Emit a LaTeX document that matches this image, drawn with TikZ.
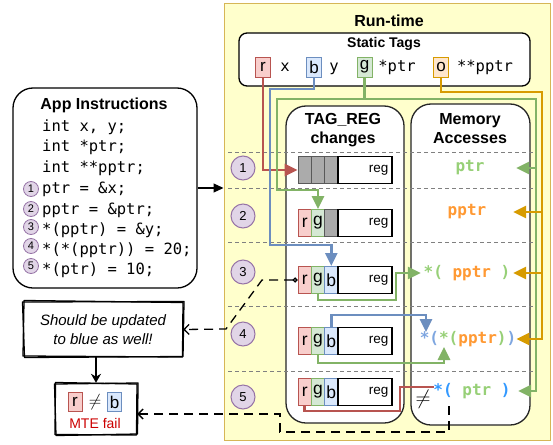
\documentclass[tikz,border=0pt]{standalone}
\usepackage{fontspec}
\setmainfont{Liberation Sans}
\setmonofont{DejaVu Sans Mono}
\usetikzlibrary{arrows.meta}

\definecolor{rtfill}{HTML}{FFFFCC}
\definecolor{rtline}{HTML}{D6B656}
\definecolor{redfill}{HTML}{F8CECC}
\definecolor{redline}{HTML}{B85450}
\definecolor{greenfill}{HTML}{D5E8D4}
\definecolor{greenline}{HTML}{82B366}
\definecolor{bluefill}{HTML}{DAE8FC}
\definecolor{blueline}{HTML}{6C8EBF}
\definecolor{orangefill}{HTML}{FFE6CC}
\definecolor{orangeline}{HTML}{D79B00}
\definecolor{stepfill}{HTML}{E1D5E7}
\definecolor{stepline}{HTML}{9673A6}
\definecolor{greytag}{HTML}{ABABAB}
\definecolor{txtgreen}{HTML}{97D077}
\definecolor{txtorange}{HTML}{FF9933}
\definecolor{txtblue}{HTML}{7EA6E0}
\definecolor{txtbright}{HTML}{3399FF}
\definecolor{failred}{HTML}{CC0000}

\newcommand{\codesize}{\fontsize{15.5}{18}\selectfont}

\begin{document}
\begin{tikzpicture}[x=1pt,y=-1pt,
  panel/.style={draw=black!85, fill=white, line width=1.3pt, rounded corners=20pt},
  stag/.style={draw, line width=1pt, inner sep=0pt, minimum width=15pt, minimum height=20pt, font=\fontsize{17}{17}\selectfont},
  rcell/.style={draw, line width=1pt, inner sep=0pt, minimum width=13.3pt, minimum height=27pt, font=\fontsize{17.5}{17.5}\selectfont},
  redcell/.style={fill=redfill, draw=redline},
  greencell/.style={fill=greenfill, draw=greenline},
  bluecell/.style={fill=bluefill, draw=blueline},
  orangecell/.style={fill=orangefill, draw=orangeline},
  greycell/.style={fill=greytag, draw=black!65},
  regbox/.style={draw, fill=white, line width=1.1pt, minimum height=27pt, text width=47pt, inner xsep=3.5pt, align=right, font=\fontsize{13.5}{13.5}\selectfont},
  stepnum/.style={circle, draw=stepline, fill=stepfill, line width=1pt, minimum size=24pt, inner sep=0pt, font=\fontsize{13}{13}\selectfont},
  appnum/.style={circle, draw=stepline, fill=stepfill, line width=0.8pt, minimum size=15pt, inner sep=0pt, font=\fontsize{11}{11}\selectfont},
  codeline/.style={anchor=west, inner sep=0pt, text height=11pt, text depth=3pt, font=\ttfamily\codesize},
  memtext/.style={inner sep=0pt, minimum width=92pt, minimum height=16pt, font=\ttfamily\bfseries\fontsize{16}{18}\selectfont},
  titletext/.style={font=\bfseries\fontsize{16}{19}\selectfont, align=center},
  rowsep/.style={draw=black!50, dash pattern=on 4pt off 3pt, line width=1pt},
  wire/.style={line width=2.6pt},
  headarrow/.style={-{Triangle[length=13pt,width=12pt]}},
  dashlink/.style={dash pattern=on 9pt off 6pt, line width=1.3pt},
  sketch/.style={line width=1.3pt, line join=round}
]
\useasboundingbox (0,0) rectangle (553,444);

% run-time area
\node[draw=rtline, fill=rtfill, line width=1pt, minimum width=326pt, minimum height=436pt, inner sep=0pt] (runtime) at (387,222) {};
\node[titletext] (rttitle) at (389,21) {Run-time};

% static tags
\node[draw, fill=white, line width=1.3pt, rounded corners=8pt, minimum width=291pt, minimum height=53pt] (static) at (384.5,59.5) {};
\node[font=\bfseries\fontsize{14}{14}\selectfont] (sttitle) at (384,44) {Static Tags};
\node[stag,redcell] (st-r) at (263,67) {r};
\node[codeline,anchor=center] (st-x) at (285,67) {x};
\node[stag,bluecell] (st-b) at (314,67) {b};
\node[codeline,anchor=center] (st-y) at (334,67) {y};
\node[stag,greencell] (st-g) at (364.5,67) {g};
\node[codeline,anchor=center] (st-ptr) at (397,67) {*ptr};
\node[stag,orangecell] (st-o) at (441,67) {o};
\node[codeline,anchor=center] (st-pptr) at (485,67) {**pptr};

% the two columns
\node[panel, minimum width=118pt, minimum height=317pt] (tagpanel) at (345,264.5) {};
\node[titletext] (tagtitle) at (343,130) {TAG\_REG\\changes};
\node[panel, minimum width=119pt, minimum height=321pt] (mempanel) at (470.5,264.5) {};
\node[titletext] (memtitle) at (470,129) {Memory\\Accesses};

\foreach \y in {152,188,242,306,371}
  \draw[rowsep] (228,\y) -- (533,\y);

% tag register per step
\node[rcell,greycell] (r1-a) at (304.7,170) {};
\node[rcell,greycell] (r1-b) at (318,170) {};
\node[rcell,greycell] (r1-c) at (331.3,170) {};
\node[regbox] (reg1) at (365,170) {reg};

\node[rcell,redcell] (r2-a) at (304.7,223) {r};
\node[rcell,greencell] (r2-b) at (318,223) {g};
\node[rcell,greycell] (r2-c) at (331.3,223) {};
\node[regbox] (reg2) at (365,223) {reg};

\foreach \n/\y in {3/280,4/341,5/392}{
  \node[rcell,redcell] (r\n-a) at (304.7,\y) {r};
  \node[rcell,greencell] (r\n-b) at (318,\y) {g};
  \node[rcell,bluecell] (r\n-c) at (331.3,\y) {b};
  \node[regbox] (reg\n) at (365,\y) {reg};
}

% memory accesses
\node[memtext] (mem1) at (470,168) {\textcolor{txtgreen}{ptr}};
\node[memtext] (mem2) at (467,212) {\textcolor{txtorange}{pptr}};
\node[memtext] (mem3) at (467,273) {\textcolor{txtgreen}{*(}\ \textcolor{txtorange}{pptr}\ \textcolor{txtgreen}{)}};
\node[memtext] (mem4) at (468,339) {\textcolor{txtblue}{*(}\textcolor{txtgreen}{*(}\textcolor{txtorange}{pptr}\textcolor{txtgreen}{)}\textcolor{txtblue}{)}};
\node[memtext] (mem5) at (472,391) {\textcolor{txtbright}{*(}\ \textcolor{txtgreen}{ptr}\ \textcolor{txtbright}{)}};
\node[font=\fontsize{21}{21}\selectfont] (neq) at (423,399) {$\neq$};

\coordinate (deref-out) at (426,332);
\coordinate (deref-in) at (444,347);
\coordinate (ptr-star) at (434,387);
\coordinate (neq-tail) at (449,406);

% tag flow
\draw[wire, redline, headarrow] (st-r.south) |- (r1-a.west);
\draw[wire, blueline, headarrow] (st-b.south) |- (270,89) -- (270,245) -| (r3-c.north);
\draw[wire, greenline, headarrow] (st-g.south) |- (277,99) -- (277,190) -| (r2-b.north);
\draw[wire, greenline, headarrow] (st-g.south) |- (536,99) |- (mem1.east);
\draw[wire, greenline, headarrow] (st-g.south) |- (536,99) |- (mem5.east);
\foreach \m in {mem2,mem3,mem4}
  \draw[wire, orangeline, headarrow] (st-o.south) |- (542,92) |- (\m.east);

\draw[wire, greenline, headarrow] (r3-b.south) -- ++(0,6) -| (396,285) |- (mem3.west);
\draw[wire, blueline, headarrow] (r4-c.north) -- ++(0,-12) -| (deref-out);
\draw[wire, greenline, headarrow] (r4-b.south) -- ++(0,8) -| (deref-in);
\draw[wire, redline] (r5-a.south) -- ++(0,5) -| (400,395) |- (ptr-star);

% steps
\foreach \n/\y in {1/168,2/216,3/272,4/334,5/397}
  \node[stepnum] (step\n) at (243,\y) {\n};

% app instructions
\node[draw, line width=1.3pt, rounded corners=20pt, minimum width=184pt, minimum height=200pt] (app) at (105,188) {};
\node[titletext] (apptitle) at (104,105) {App Instructions};
\node[codeline] (line1) at (42,127) {int x, y;};
\node[codeline] (line2) at (42,147) {int *ptr;};
\node[codeline] (line3) at (42,168) {int **pptr;};
\node[codeline] (line4) at (42,189) {ptr = \&x;};
\node[codeline] (line5) at (42,210) {pptr = \&ptr;};
\node[codeline] (line6) at (42,230) {*(pptr) = \&y;};
\node[codeline] (line7) at (42,250) {*(*(pptr)) = 20;};
\node[codeline] (line8) at (42,270) {*(ptr) = 10;};
\foreach \n/\y in {1/189,2/209,3/227,4/246,5/266}
  \node[appnum] (num\n) at (31,\y) {\n};

\draw[line width=1.2pt, -{Triangle[length=10pt,width=9pt]}] (app.east) -- (app.east -| runtime.west);

% note and failure
\draw[sketch, fill=white] (24,300.5) -- (183,302.5) -- (182.5,357) -- (23,356) -- cycle;
\draw[sketch] (22.5,302) -- (184,301.5) -- (183,356.5) -- (24.5,357.5) -- cycle;
\node[minimum width=160pt, minimum height=55pt, align=center, font=\itshape\fontsize{15}{19}\selectfont] (note) at (103,329.5) {Should be updated\\to blue as well!};

\draw[sketch, fill=white] (55.5,382.5) -- (137,384) -- (136.5,435) -- (55,434.5) -- cycle;
\draw[sketch] (54.5,384) -- (138,383) -- (137.5,434) -- (56,435.5) -- cycle;
\node[minimum width=82pt, minimum height=52pt] (mte) at (96,409) {};
\node[stag, redcell, minimum width=14pt, minimum height=19pt] (mte-r) at (75,402) {r};
\node[font=\fontsize{19}{19}\selectfont] (mte-neq) at (95,402) {$\neq$};
\node[stag, bluecell, minimum width=14pt, minimum height=19pt] (mte-b) at (114.5,402) {b};
\node[text=failred, font=\fontsize{14}{14}\selectfont] (mte-fail) at (95,423) {MTE fail};

\draw[line width=1.8pt, -{Stealth[length=9pt,width=10pt]}] (note.south -| mte.north) -- (mte.north);
\draw[dashlink, {Circle[open,length=5pt]}-{Straight Barb[length=5pt,width=10pt]}] (r3-a.west) -- (262,280) -- (226,329) -- (note.east);
\draw[dashlink, -{Straight Barb[length=5pt,width=10pt]}] (neq-tail) -- (449,432) -| (280,414) -- ([yshift=-5pt]mte.east);

\end{tikzpicture}
\end{document}
